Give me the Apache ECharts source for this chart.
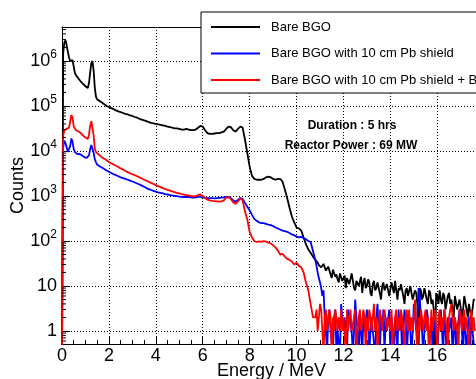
<!DOCTYPE html>
<html><head><meta charset="utf-8">
<script src="https://cdn.jsdelivr.net/npm/echarts@6/dist/echarts.min.js"></script>
<style>html,body{margin:0;padding:0;background:#fff}#c{width:476px;height:379px}</style>
</head><body><div id="c"></div><script>
// Energy bin centres (MeV)
const energyLow = [0,0.05,0.1,0.15,0.2,0.25,0.3,0.35,0.4,0.45,0.5,0.55,0.6,0.65,0.7,0.75,0.8,0.85,0.9,0.95,1.0,1.05,1.1,1.15,1.2,1.25,1.3,1.35,1.4,1.45,1.5];
const energyMid = [1.6,1.7,1.8,1.9,2.0,2.1,2.2,2.3,2.4,2.5,
  2.6,2.7,2.8,2.9,3.0,3.1,3.2,3.3,3.4,3.5,
  3.6,3.7,3.8,3.9,4.0,4.1,4.2,4.3,4.4,4.5,
  4.6,4.7,4.8,4.9,5.0,5.1,5.2,5.3,5.4,5.5,
  5.6,5.7,5.8,5.9,6.0,6.1,6.2,6.3,6.4,6.5,
  6.6,6.7,6.8,6.9,7.0,7.1,7.2,7.3,7.4,7.5,
  7.6,7.7,7.8,7.9,8.0,8.1,8.2,8.3,8.4,8.5,
  8.6,8.7,8.8,8.9,9.0,9.1,9.2,9.3,9.4,9.5,
  9.6,9.7,9.8,9.9,10.0,10.1,10.2,10.3,10.4,10.5,
  10.6,10.7];
const energyTail = [
  10.8,10.85,10.9,10.95,11.0,11.05,11.1,11.15,11.2,11.25,11.3,11.35,11.4,11.45,11.5,11.55,11.6,11.65,11.7,11.75,
  11.8,11.85,11.9,11.95,12.0,12.05,12.1,12.15,12.2,12.25,12.3,12.35,12.4,12.45,12.5,12.55,12.6,12.65,12.7,12.75,
  12.8,12.85,12.9,12.95,13.0,13.05,13.1,13.15,13.2,13.25,13.3,13.35,13.4,13.45,13.5,13.55,13.6,13.65,13.7,13.75,
  13.8,13.85,13.9,13.95,14.0,14.05,14.1,14.15,14.2,14.25,14.3,14.35,14.4,14.45,14.5,14.55,14.6,14.65,14.7,14.75,
  14.8,14.85,14.9,14.95,15.0,15.05,15.1,15.15,15.2,15.25,15.3,15.35,15.4,15.45,15.5,15.55,15.6,15.65,15.7,15.75,
  15.8,15.85,15.9,15.95,16.0,16.05,16.1,16.15,16.2,16.25,16.3,16.35,16.4,16.45,16.5,16.55,16.6,16.65,16.7,16.75,
  16.8,16.85,16.9,16.95,17.0,17.05,17.1,17.15,17.2,17.25,17.3,17.35,17.4,17.45,17.5,17.55,17.6];

// Bare BGO
const blackLow = [0,1.5e6,2.6e6,2.9e6,2.2e6,1.6e6,1.2e6,1.0e6,1.0e6,1.05e6,7.5e5,5.4e5,4.8e5,4.4e5,4.1e5,3.8e5,3.5e5,3.3e5,3.1e5,2.9e5,2.75e5,2.6e5,2.5e5,3.2e5,5.5e5,9e5,1.0e6,6e5,2.5e5,1.6e5,1.4e5];
const blackMid = [1.3e5,1.2e5,1.1e5,1.0e5,9.5e4,9.0e4,8.5e4,8.0e4,7.6e4,7.3e4,
  7.0e4,6.7e4,6.5e4,6.2e4,6.0e4,5.7e4,5.5e4,5.2e4,5.0e4,4.8e4,
  4.6e4,4.4e4,4.2e4,4.1e4,4.0e4,3.9e4,3.8e4,3.7e4,3.6e4,3.5e4,
  3.4e4,3.3e4,3.2e4,3.2e4,3.1e4,3.0e4,3.0e4,3.1e4,3.0e4,2.9e4,
  2.9e4,3.0e4,3.3e4,3.6e4,3.5e4,2.9e4,2.5e4,2.4e4,2.4e4,2.45e4,
  2.5e4,2.5e4,2.6e4,2.7e4,3.1e4,3.5e4,3.4e4,2.9e4,2.7e4,3.1e4,
  3.5e4,3.3e4,1.8e4,9e3,4.5e3,2.8e3,2.4e3,2.3e3,2.3e3,2.3e3,
  2.4e3,2.6e3,2.7e3,2.6e3,2.4e3,2.3e3,2.4e3,2.4e3,2.1e3,1.4e3,
  900,550,350,260,200,190,170,120,85,65,
  55,45];
const blackTail = [
  38,35,33,29,30,26,24,31,28,22,20,27,26,18,15,23,22,16,18,14,
  12,19,20,13,14,17,9,15,16,11,12,19,18,9,8,13,14,10,11,16,
  7,12,15,9,10,14,12,7,6,11,13,8,9,12,11,7,5,10,12,8,
  8,11,10,6,6,12,9,7,13,8,5,9,8,11,10,6,4,8,9,6,
  6,10,11,5,5,8,7,4,0,9,8,5,6,9,9,5,4,8,7,4,
  5,3,0,7,6,4,8,5,4,7,6,3,3,6,7,4,5,3,2,6,
  6,3,4,5,5,2,3,6,6,3,2,4,4,2,3,5,5];

// Bare BGO with 10 cm Pb shield
const blueLow = [0,1.2e4,1.7e4,1.5e4,1.2e4,9.5e3,1.0e4,1.3e4,1.9e4,1.6e4,1.1e4,9.5e3,9.0e3,8.5e3,8.5e3,8.6e3,8.3e3,8.0e3,7.6e3,7.3e3,7.1e3,7.0e3,7.0e3,8.0e3,1.1e4,1.36e4,1.3e4,9e3,6.5e3,5.6e3,5.0e3];
const blueMid = [4.6e3,4.3e3,4.0e3,3.7e3,3.45e3,3.25e3,3.05e3,2.9e3,2.75e3,2.6e3,
  2.5e3,2.4e3,2.3e3,2.2e3,2.1e3,2.0e3,1.9e3,1.8e3,1.7e3,1.6e3,
  1.5e3,1.42e3,1.36e3,1.3e3,1.25e3,1.2e3,1.17e3,1.14e3,1.1e3,1.08e3,
  1.05e3,1.03e3,1.0e3,990,970,960,950,950,940,930,
  920,930,960,960,930,910,900,900,900,890,
  900,910,920,930,950,960,900,800,750,820,
  900,860,700,580,480,380,310,280,260,250,
  250,240,230,225,215,200,190,180,170,165,
  160,150,140,135,125,120,125,115,110,100,
  95,60];
const blueTail = [
  38,28,20,15,12,9,6,8,2,1,0,2,3,1,1,0,2,3,0,1,
  1,0,4,2,1,2,1,0,3,2,2,1,0,1,5,2,1,0,2,1,
  0,2,1,1,3,2,0,1,2,1,1,0,2,4,1,0,2,1,3,0,
  2,1,1,3,0,2,1,0,2,1,0,3,1,2,0,1,3,2,0,1,
  2,1,0,1,4,2,1,2,9,6,2,1,0,1,1,3,2,0,1,2,
  0,1,2,1,0,1,2,3,1,0,3,1,0,2,1,1,2,0,1,2,
  0,1,1,3,2,1,0,2,1,0,1,2,0,2,1,1,0];

// Bare BGO with 10 cm Pb shield + B...
const redLow = [0,2.2e4,2.9e4,3.0e4,3.1e4,3.2e4,3.3e4,3.6e4,6.3e4,5.5e4,3.5e4,3.2e4,2.9e4,2.7e4,2.7e4,2.6e4,2.5e4,2.35e4,2.2e4,2.1e4,2.0e4,1.9e4,1.85e4,2.3e4,3.6e4,4.6e4,4.2e4,2.2e4,1.1e4,9.5e3,8.8e3];
const redMid = [8.0e3,7.3e3,6.7e3,6.2e3,5.7e3,5.3e3,5.0e3,4.7e3,4.4e3,4.1e3,
  3.9e3,3.6e3,3.4e3,3.2e3,3.05e3,2.9e3,2.75e3,2.6e3,2.45e3,2.3e3,
  2.2e3,2.05e3,1.95e3,1.85e3,1.75e3,1.65e3,1.58e3,1.5e3,1.43e3,1.37e3,
  1.32e3,1.27e3,1.22e3,1.18e3,1.14e3,1.1e3,1.07e3,1.05e3,1.03e3,1.0e3,
  980,990,1050,1080,1000,900,830,800,780,770,
  760,750,760,800,920,940,860,720,670,760,
  880,800,450,300,160,120,100,95,98,96,
  100,97,92,88,80,72,62,50,52,45,
  40,38,35,30,33,28,26,20,12,8,
  4,2];
const redTail = [
  2,3,1,2,4,3,1,0,2,3,1,1,3,2,0,2,1,3,2,1,
  2,1,3,1,2,2,0,3,1,2,3,1,1,2,3,0,1,2,3,1,
  1,3,2,0,2,1,3,2,1,2,4,1,2,0,1,3,2,1,2,3,
  3,1,2,2,1,3,0,1,2,3,1,2,1,3,2,1,0,2,3,1,
  3,1,2,1,2,5,1,0,2,1,3,2,1,2,3,1,2,0,1,3,
  1,2,3,1,0,2,3,1,2,1,3,2,1,0,2,3,4,2,1,2,
  2,1,0,3,2,1,2,3,1,2,1,0,2,3,1,2,1];

const seriesNames = ['Bare BGO', 'Bare BGO with 10 cm Pb shield', 'Bare BGO with 10 cm Pb shield + Boron'];
const seriesColors = ['#000000', '#0000ff', '#ff0000'];
const xTickLabels = ['0','2','4','6','8','10','12','14','16'];
const annotation = ['Duration : 5 hrs', 'Reactor Power : 69 MW'];

const energies = energyLow.concat(energyMid, energyTail);
const allCounts = [
  blackLow.concat(blackMid, blackTail),
  blueLow.concat(blueMid, blueTail),
  redLow.concat(redMid, redTail)
];
const FLOOR = 0.3; // empty bins drawn to the bottom edge (clipped)
const Y_MIN = 0.514, Y_MAX = 5.7e6;

// log minor tick positions (2..9 per decade)
const minorVals = [];
for (let k = -1; k <= 6; k++) for (let m = 2; m <= 9; m++) {
  const v = m * Math.pow(10, k);
  if (v > Y_MIN && v < Y_MAX) minorVals.push([0, v]);
}

const FONT = '"Liberation Sans", Arial, Helvetica, sans-serif';
const chart = echarts.init(document.getElementById('c'), null, {renderer: 'canvas'});

const lineSeries = seriesNames.map((name, s) => ({
  name, type: 'line', showSymbol: false, symbol: 'none',
  data: energies.map((e, i) => [e, allCounts[s][i] > 0 ? allCounts[s][i] : FLOOR]),
  lineStyle: {color: seriesColors[s], width: 1.8},
  itemStyle: {color: seriesColors[s]},
  clip: true, z: 3 + s, animation: false
}));

chart.setOption({
  animation: false,
  backgroundColor: '#fff',
  textStyle: {fontFamily: FONT},
  grid: {left: 62, right: 0, top: 27, bottom: 35, containLabel: false, outerBoundsMode: 'none'},
  legend: {
    data: seriesNames, orient: 'vertical', left: 201, top: 12,
    padding: [8.5, 300, 6.5, 10], itemGap: 13.5,
    itemWidth: 49, itemHeight: 2, icon: 'rect', selectedMode: false,
    backgroundColor: '#fff', borderColor: '#000', borderWidth: 1,
    textStyle: {fontSize: 13, color: '#000', fontFamily: FONT, padding: [0, 0, 0, 6]}
  },
  xAxis: [{
    type: 'value', min: 0, max: 17.65, interval: 2,
    axisLine: {show: true, onZero: false, lineStyle: {color: '#000', width: 1}},
    axisTick: {show: true, inside: true, length: 8, lineStyle: {color: '#000'}},
    minorTick: {show: true, splitNumber: 4, length: 4, lineStyle: {color: '#000'}},
    splitLine: {show: true, lineStyle: {color: '#000', type: [1, 2], width: 1}},
    axisLabel: {fontSize: 18, color: '#000', margin: 3, fontFamily: FONT, showMaxLabel: false,
      formatter: v => xTickLabels.indexOf(String(Math.round(v))) >= 0 && Math.abs(v - Math.round(v)) < 1e-6 ? String(Math.round(v)) : ''}
  }, {
    type: 'value', position: 'top', min: 0, max: 17.65,
    axisLine: {show: true, lineStyle: {color: '#000', width: 1}},
    axisTick: {show: false}, axisLabel: {show: false}, splitLine: {show: false}
  }],
  yAxis: {
    type: 'log', logBase: 10, min: Y_MIN, max: Y_MAX, splitNumber: 7,
    name: 'Counts', nameLocation: 'middle', nameGap: 35, nameMoveOverlap: false,
    nameTextStyle: {fontSize: 18, color: '#000', fontFamily: FONT},
    axisLine: {show: true, onZero: false, lineStyle: {color: '#000', width: 1}},
    axisTick: {show: true, inside: true, length: 8, lineStyle: {color: '#000'}},
    splitLine: {show: true, lineStyle: {color: '#000', type: [1, 2], width: 1}},
    axisLabel: {
      margin: 5, color: '#000', fontFamily: FONT, showMinLabel: false, showMaxLabel: false,
      formatter: v => {
        const lg = Math.log10(v), e = Math.round(lg);
        if (Math.abs(lg - e) > 0.01) return '';
        if (e === 0) return '{b|1}';
        if (e === 1) return '{b|10}';
        return '{b|10}{s|' + e + '}';
      },
      rich: {
        b: {fontSize: 18, color: '#000', fontFamily: FONT, padding: [4, 0, 4, 0]},
        s: {fontSize: 12, color: '#000', fontFamily: FONT, padding: [0, 0, 13, 0]}
      }
    }
  },
  graphic: [
    {type: 'text', left: 217, top: 362, style: {text: 'Energy / MeV', font: '18px ' + FONT, fill: '#000'}},
    {type: 'text', x: 352, y: 126, style: {text: annotation[0], font: 'bold 12px ' + FONT, fill: '#000', textAlign: 'center', textVerticalAlign: 'middle'}},
    {type: 'text', x: 351, y: 146, style: {text: annotation[1], font: 'bold 12px ' + FONT, fill: '#000', textAlign: 'center', textVerticalAlign: 'middle'}}
  ],
  series: lineSeries.concat([{
    type: 'custom', name: 'minorTicks', silent: true, z: 10,
    data: minorVals,
    renderItem: (params, api) => {
      const p = api.coord([0, api.value(1)]);
      return {type: 'line', shape: {x1: p[0], y1: p[1], x2: p[0] + 4, y2: p[1]},
        style: {stroke: '#000', lineWidth: 1}};
    }
  }])
});
</script></body></html>
